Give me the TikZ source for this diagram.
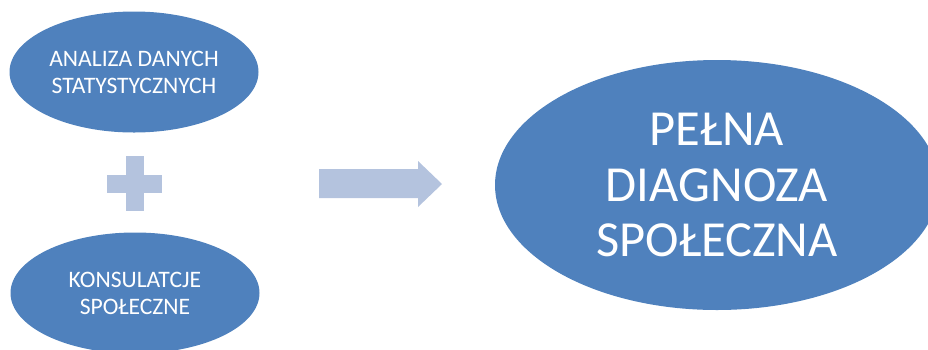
\documentclass[tikz,border=0pt]{standalone}
\usepackage{fontspec}
\setmainfont{Carlito}
\usetikzlibrary{shapes.geometric}

\definecolor{blobblue}{HTML}{4F81BD}
\definecolor{paleblue}{HTML}{B4C3DE}

\tikzset{
  blob/.style={ellipse, fill=blobblue, text=white, inner sep=0pt, align=center},
  smallblob/.style={blob, minimum width=249pt, minimum height=121pt,
    font=\fontsize{23.6}{27}\selectfont},
  bigblob/.style={blob, minimum width=444pt, minimum height=250pt,
    font=\fontsize{50.5}{55.5}\selectfont}
}

\begin{document}
\begin{tikzpicture}[x=1pt,y=-1pt]

    \useasboundingbox (0,0) rectangle (928,349);

    % Elipsy
    \node[smallblob] (analiza) at (134,72) {ANALIZA DANYCH\\STATYSTYCZNYCH};
    \node[smallblob] (konsultacje) at (135,293) {KONSULATCJE\\SPOŁECZNE};
    \node[bigblob] (diagnoza) at (717,185) {PEŁNA\\DIAGNOZA\\SPOŁECZNA};

    % Plus
    \fill[paleblue] (126,156) rectangle (144,211);
    \fill[paleblue] (107,175) rectangle (162,193);

    % Strzalka
    \fill[paleblue] (319,169) -- (418,169) -- (418,161) -- (442,184)
        -- (418,207) -- (418,198) -- (319,198) -- cycle;

\end{tikzpicture}
\end{document}
